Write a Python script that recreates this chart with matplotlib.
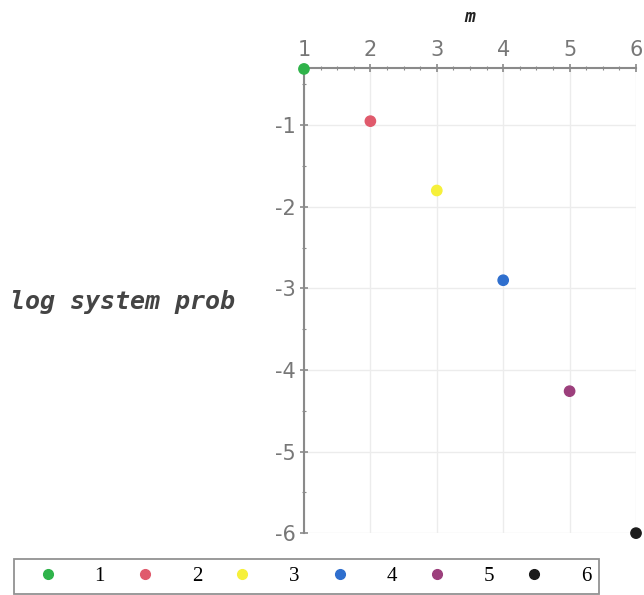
import numpy as np
import matplotlib.pyplot as plt
from matplotlib.lines import Line2D
from matplotlib.ticker import MultipleLocator

# log of system probability for each m
m = [1, 2, 3, 4, 5, 6]
log_prob = [-0.31, -0.95, -1.80, -2.90, -4.26, -6.0]
labels = ['1', '2', '3', '4', '5', '6']
colors = ['#2fb34a', '#e05a6c', '#f6f03a', '#2f6fce', '#9c3f7c', '#1c1c1c']

axis_gray = '#8a8a8a'

fig = plt.figure(figsize=(6.44, 5.95), dpi=100)
ax = fig.add_axes([0.472, 0.104, 0.5156, 0.7815])

ax.scatter(m, log_prob, c=colors, s=55, zorder=3, clip_on=False)

ax.set_xlim(1, 6)
ax.set_ylim(-6, -0.30)

# axes drawn maple-style: x axis on top, y axis on the left
for side in ['right', 'bottom']:
    ax.spines[side].set_visible(False)
for side in ['top', 'left']:
    ax.spines[side].set_color(axis_gray)
    ax.spines[side].set_linewidth(1.5)

ax.xaxis.set_ticks_position('top')
ax.xaxis.set_label_position('top')
ax.xaxis.set_major_locator(MultipleLocator(1))
ax.xaxis.set_minor_locator(MultipleLocator(0.25))
ax.yaxis.set_major_locator(MultipleLocator(1))
ax.yaxis.set_minor_locator(MultipleLocator(0.5))
ax.tick_params(which='major', direction='inout', length=6, width=1.2,
               color=axis_gray, labelcolor='#777777', labelsize=15, pad=3)
ax.tick_params(which='minor', direction='inout', length=3, width=0.8,
               color=axis_gray)
ax.set_yticks([-1, -2, -3, -4, -5, -6])
ax.set_yticklabels(['-1', '-2', '-3', '-4', '-5', '-6'])

ax.grid(True, which='major', color='#ececec', linewidth=1, zorder=0)

fig.text(0.73, 0.972, 'm', ha='center', va='center', fontsize=13,
         fontweight='bold', fontstyle='italic', family='DejaVu Sans Mono',
         color='#222222')
fig.text(0.015, 0.493, 'log system prob', ha='left', va='center',
         fontsize=18, fontweight='bold', fontstyle='italic',
         family='DejaVu Sans Mono', color='#444444')

handles = [Line2D([], [], marker='o', linestyle='none', markersize=7,
                  markerfacecolor=c, markeredgecolor=c) for c in colors]
leg = fig.legend(handles, labels, ncol=6, loc='center',
                 bbox_to_anchor=(0.476, 0.031), frameon=True,
                 fancybox=False, edgecolor='#777777', handlelength=2.5,
                 handletextpad=1.0, columnspacing=0.67, borderpad=0.35,
                 borderaxespad=0,
                 prop={'family': 'Liberation Serif', 'size': 15})
leg.get_frame().set_linewidth(1.3)

fig.savefig('out.png', dpi=100)
